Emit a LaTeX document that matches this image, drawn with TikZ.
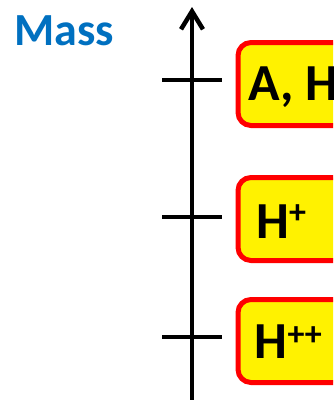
\documentclass[tikz,border=0pt]{standalone}
\usepackage{fontspec}
\setmainfont{Carlito}
\usetikzlibrary{arrows.meta}
\definecolor{massblue}{RGB}{0,112,192}
\begin{document}
\begin{tikzpicture}[x=1pt,y=-1pt,
  levelbox/.style={draw=red, fill=yellow, line width=5pt, rounded corners=13pt,
    minimum width=200pt, minimum height=83pt, anchor=west, inner sep=0pt},
  tickline/.style={line width=4.5pt},
  lvltext/.style={font=\bfseries\fontsize{52}{52}\selectfont, anchor=base west, inner sep=0pt},
  supplus/.style={}
]
\useasboundingbox (0,0) rectangle (333,400);
\clip (0,0) rectangle (333,400);
% title
\node[font=\bfseries\fontsize{46}{46}\selectfont, text=massblue, anchor=base west, inner sep=0pt] (mass) at (14,45) {Mass};
% axis
\coordinate (axbot) at (192,402);
\coordinate (axtop) at (192,7);
\draw[line width=4.5pt, -{Straight Barb[length=18pt,width=22pt]}] (axbot) -- (axtop);
% ticks
\coordinate (t1l) at (162,80);  \coordinate (t1r) at (222,80);
\coordinate (t2l) at (162,217); \coordinate (t2r) at (222,217);
\coordinate (t3l) at (162,337); \coordinate (t3r) at (222,337);
\draw[tickline] (t1l) -- (t1r);
\draw[tickline] (t2l) -- (t2r);
\draw[tickline] (t3l) -- (t3r);
% boxes
\node[levelbox] (b1) at (235.5,84) {};
\node[levelbox] (b2) at (235.5,219) {};
\node[levelbox] (b3) at (235.5,341) {};
% labels
\node[lvltext] (l1) at (248,100) {A, H};
\node[lvltext] (l2) at (256,238) {H\raisebox{14.5pt}{\fontsize{34}{34}\selectfont +}};
\node[lvltext] (l3) at (254.5,358) {H\raisebox{13pt}{\fontsize{34}{34}\selectfont ++}};
\end{tikzpicture}
\end{document}
